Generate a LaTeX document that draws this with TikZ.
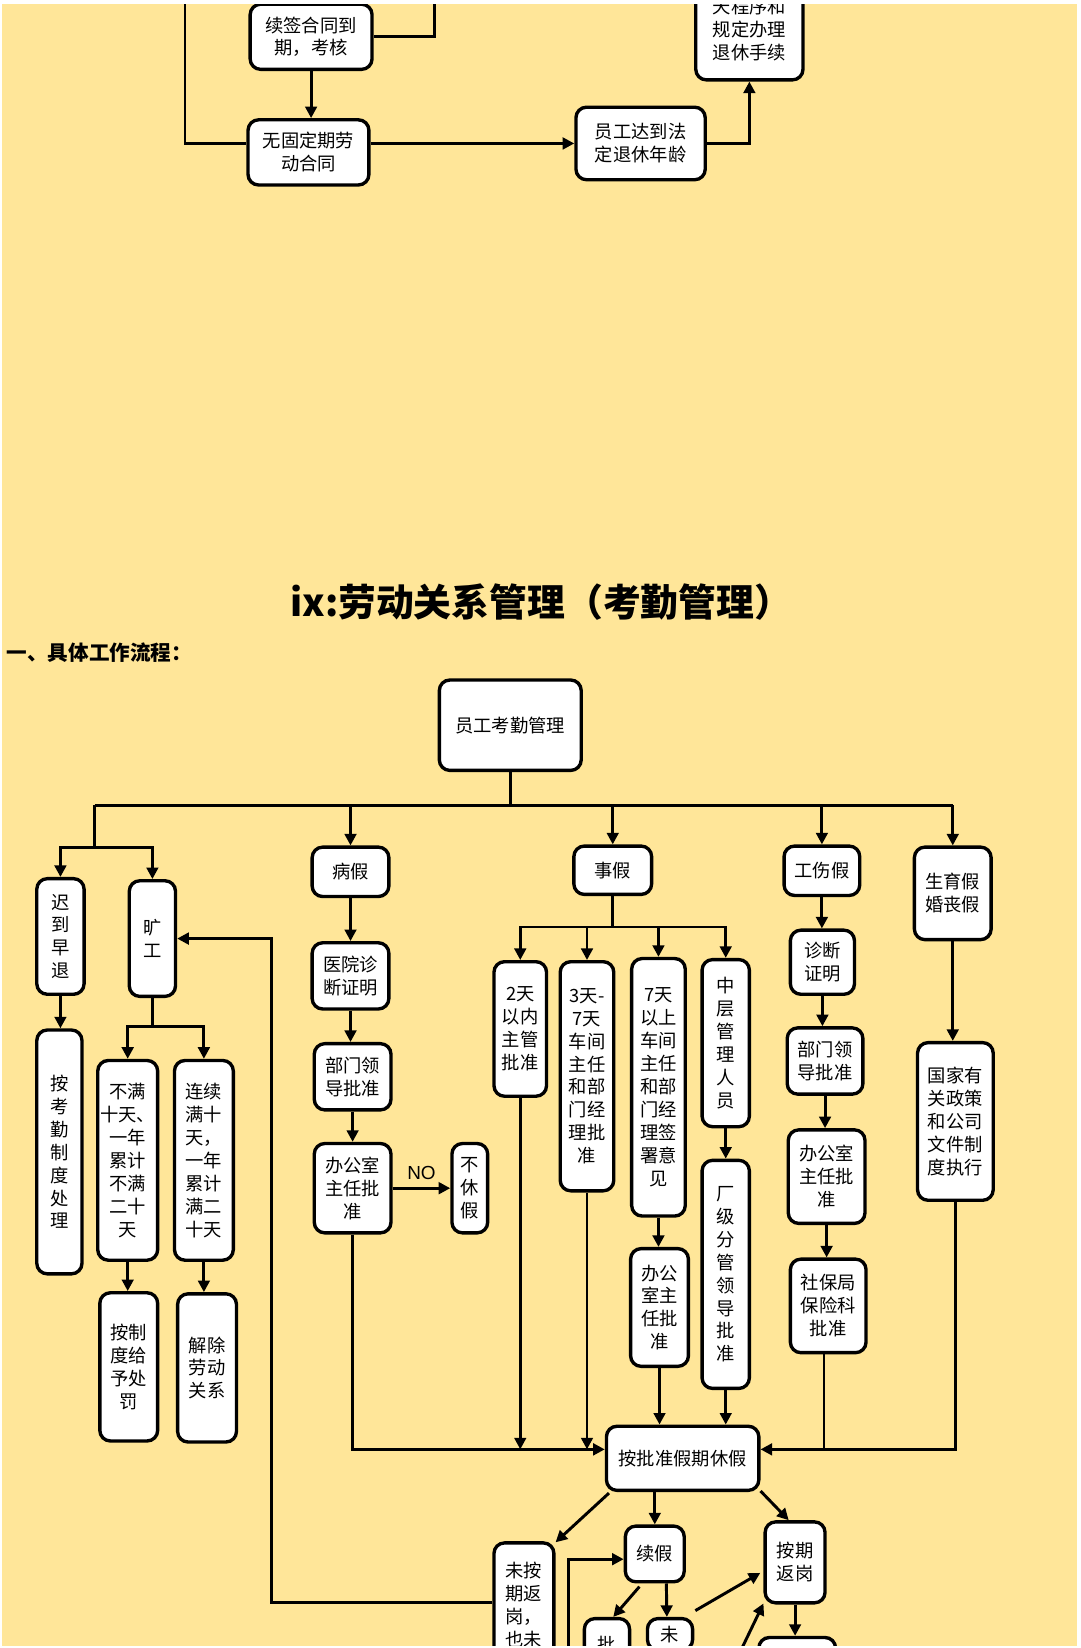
\documentclass[tikz,border=0pt]{standalone}
\usepackage{fontspec}
\newfontfamily\cjk{Noto Sans CJK SC}
\newfontfamily\lat{Liberation Sans}
\usetikzlibrary{arrows.meta,calc}
\definecolor{bgy}{HTML}{FFE699}
\newcommand\bxn[7][]{\node[bx,#1,minimum width={((#5)-(#3))*0.5pt},minimum height={((#6)-(#4))*0.5pt}] (#2) at ({((#3)+(#5))/2},{((#4)+(#6))/2}) {#7};}
\begin{document}
\begin{tikzpicture}[x=0.5pt,y=-0.5pt,
  bx/.style={draw=black,line width=1.6pt,fill=white,rounded corners=5pt,inner sep=0pt,align=center,font=\cjk\fontsize{8.7}{10.9}\selectfont},
  ln/.style={line width=1.4pt,draw=black},
  ar/.style={ln,-{Triangle[length=5.5pt,width=5.5pt]}},
  ttl/.style={font=\cjk\bfseries\fontsize{18}{20}\selectfont,inner sep=0pt},
  sttl/.style={font=\cjk\bfseries\fontsize{9.8}{11}\selectfont,inner sep=0pt,anchor=west},
  lbl/.style={font=\lat\fontsize{9}{10}\selectfont}
]
\useasboundingbox (0,0) rectangle (1028,1568);
\fill[white] (0,0) rectangle (1028,1568);
\fill[bgy] (2,4) rectangle (1025,1566);
\begin{scope}
\clip (2,4) rectangle (1025,1566);
% ---------- top section ----------
\bxn{xq}{238}{4}{354}{66}{续签合同到\\期，考核}
\bxn{wgd}{236}{114}{351}{176}{无固定期劳\\动合同}
\bxn{yg}{548}{102}{671}{171}{员工达到法\\定退休年龄}
\bxn{tc}{662}{-20}{764}{76}{天程序和\\规定办理\\退休手续}
\coordinate (lt) at (176,0);
\coordinate (rt) at (413,0);
\draw[ln] (lt) |- (wgd.west |- yg.west);
\draw[ln] (rt) |- (xq.east);
\draw[ar] (xq.south) -- (xq.south |- wgd.north);
\draw[ar] (wgd.east |- yg.west) -- (yg.west);
\draw[ar] (yg.east) -| (tc.south);
% ---------- titles ----------
\node[ttl] (title) at (515,573) {ix:劳动关系管理（考勤管理）};
\node[sttl] (sub) at (6,621) {一、具体工作流程：};
% ---------- main flow ----------
\bxn{kq}{418}{647}{553}{733}{员工考勤管理}
\bxn{cd}{35}{836}{80}{946}{迟\\到\\早\\退}
\bxn{kg}{123}{838}{167}{948}{旷\\工}
\bxn{bj}{297}{806}{370}{853}{病假}
\bxn{sj}{546}{805}{620}{851}{事假}
\bxn{gs}{746}{805}{818}{852}{工伤假}
\bxn{sy}{870}{806}{943}{894}{生育假\\婚丧假}
\coordinate (busL) at (90,766);
\draw[ln] (kq.south) -- (kq.south |- busL);
\draw[ln] (busL) -- (sy.north |- busL);
\draw[ar] (bj.north |- busL) -- (bj.north);
\draw[ar] (sj.north |- busL) -- (sj.north);
\draw[ar] (gs.north |- busL) -- (gs.north);
\draw[ar] (sy.north |- busL) -- (sy.north);
\coordinate (sp) at (90,806);
\draw[ln] (busL) -- (sp);
\draw[ar] (sp) -| (cd.north);
\draw[ar] (sp) -| (kg.north);
% late / absent
\bxn{akq}{35}{980}{78}{1212}{按\\考\\勤\\制\\度\\处\\理}
\draw[ar] (cd.south) -- (cd.south |- akq.north);
\bxn{bm}{93}{1009}{150}{1199}{不满\\十天、\\一年\\累计\\不满\\二十\\天}
\bxn{lx}{166}{1009}{222}{1199}{连续\\满十\\天，\\一年\\累计\\满二\\十天}
\coordinate (ks) at (146,977);
\draw[ln] (kg.south) -- (kg.south |- ks);
\draw[ar] (ks) -| (bm.north);
\draw[ar] (ks) -| (lx.north);
\bxn{acf}{95}{1230}{150}{1371}{按制\\度给\\予处\\罚}
\bxn{jc}{169}{1231}{225}{1372}{解除\\劳动\\关系}
\draw[ar] (bm.south) -- (bm.south |- acf.north);
\draw[ar] (lx.south) -- (lx.south |- jc.north);
% sick leave
\bxn{yy}{297}{897}{370}{960}{医院诊\\断证明}
\bxn{bm1}{299}{993}{372}{1056}{部门领\\导批准}
\bxn{bg1}{299}{1088}{372}{1173}{办公室\\主任批\\准}
\bxn{bxj}{430}{1088}{464}{1173}{不\\休\\假}
\draw[ar] (bj.south) -- (bj.south |- yy.north);
\draw[ar] (yy.south) -- (yy.south |- bm1.north);
\draw[ar] (bm1.south) -- (bm1.south |- bg1.north);
\draw[ar] (bg1.east) -- (bxj.west) node[lbl,midway,above] (no) {NO};
% approved leave
\bxn{apz}{577}{1357}{722}{1418}{按批准假期休假}
\coordinate (hl) at (0,1379);
\draw[ar] (bg1.south) -- (bg1.south |- hl) -- (apz.west |- hl);
% personal leave
\bxn{d2}{470}{915}{520}{1043}{2天\\以内\\主管\\批准}
\bxn{d3}{533}{915}{584}{1133}{3天-\\7天\\车间\\主任\\和部\\门经\\理批\\准}
\bxn{d7}{601}{912}{652}{1157}{7天\\以上\\车间\\主任\\和部\\门经\\理签\\署意\\见}
\bxn{zc}{668}{913}{713}{1072}{中\\层\\管\\理\\人\\员}
\coordinate (sb) at (583,882);
\draw[ln] (sj.south) -- (sj.south |- sb);
\draw[ar] (sj.south |- sb) -| (d2.north);
\draw[ar] (sj.south |- sb) -| (d3.north);
\draw[ar] (sj.south |- sb) -| (d7.north);
\draw[ar] (sj.south |- sb) -| (zc.north);
\draw[ar] (d2.south) -- (d2.south |- hl);
\draw[ar] (d3.south) -- (d3.south |- hl);
\bxn{bg2}{600}{1188}{655}{1300}{办公\\室主\\任批\\准}
\bxn{cj}{668}{1104}{713}{1321}{厂\\级\\分\\管\\领\\导\\批\\准}
\draw[ar] (d7.south) -- (d7.south |- bg2.north);
\draw[ar] (bg2.south) -- (bg2.south |- apz.north);
\draw[ar] (zc.south) -- (zc.south |- cj.north);
\draw[ar] (cj.south) -- (cj.south |- apz.north);
% injury leave
\bxn{zd}{752}{885}{813}{946}{诊断\\证明}
\bxn{bm2}{749}{978}{821}{1041}{部门领\\导批准}
\bxn{bg3}{750}{1075}{823}{1164}{办公室\\主任批\\准}
\bxn{sbj}{752}{1198}{824}{1287}{社保局\\保险科\\批准}
\draw[ar] (gs.south) -- (gs.south |- zd.north);
\draw[ar] (zd.south) -- (zd.south |- bm2.north);
\draw[ar] (bm2.south) -- (bm2.south |- bg3.north);
\draw[ar] (bg3.south) -- (bg3.south |- sbj.north);
\draw[ln] ($(sbj.south)+(-4,0)$) -- ($(sbj.south |- hl)+(-4,0)$);
% maternity leave
\bxn{gj}{873}{992}{945}{1142}{国家有\\关政策\\和公司\\文件制\\度执行}
\draw[ar] (sy.south) -- (sy.south |- gj.north);
\draw[ar] (gj.south) -- (gj.south |- hl) -- (apz.east |- hl);
% ---------- bottom ----------
\bxn{wa}{470}{1468}{527}{1586}{未按\\期返\\岗，\\也未}
\bxn{xj}{595}{1452}{651}{1505}{续假}
\bxn{aq}{728}{1448}{785}{1525}{按期\\返岗}
\bxn{pi}{556}{1540}{599}{1590}{批}
\bxn{wei}{616}{1540}{659}{1570}{未}
\bxn{last}{722}{1558}{795}{1640}{}
\draw[ar] ($(apz.south west)+(4,1)$) -- ($(wa.north east)+(0,1)$);
\draw[ar] (apz.south -| xj.north) -- (xj.north);
\draw[ar] ($(apz.south east)+(0,-1)$) -- ($(aq.north west)+(24,0)$);
\draw[ar] ($(xj.south west)+(15,3)$) -- ($(pi.north)+(6,0)$);
\draw[ar] ($(xj.south)+(11,0)$) -- ($(wei.north)+(-3,0)$);
\draw[ar] ($(wei.north east)+(1,-6)$) -- ($(aq.west)+(-3,10)$);
\coordinate (b1) at (705,1570);
\draw[ar] (b1) -- ($(aq.south west)+(0,-1)$);
\draw[ar] (aq.south) -- (aq.south |- last.north);
\coordinate (b2) at (541,1570);
\draw[ar] (b2) |- ($(xj.west)+(0,5)$);
\coordinate (wl) at (258,1525);
\draw[ar] (wa.west |- wl) -- (wl) |- (kg.east);
\end{scope}
\end{tikzpicture}
\end{document}
